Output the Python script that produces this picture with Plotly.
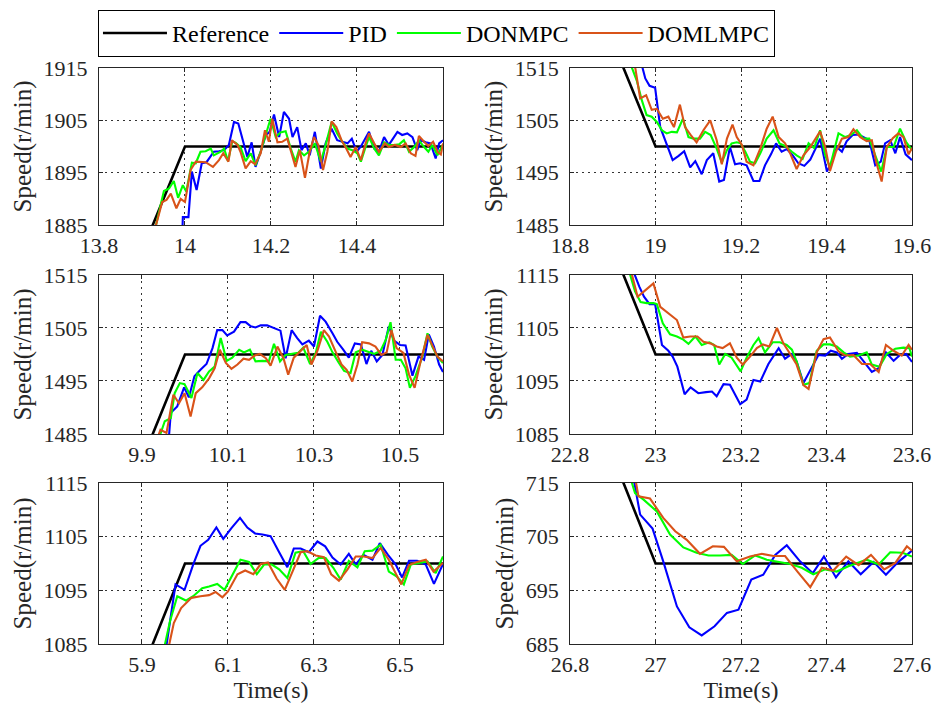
import plotly.graph_objects as go

# ---------------- data ----------------
series_names = ["Reference", "PID", "DONMPC", "DOMLMPC"]
series_colors = ["#000000", "#0000FF", "#00FF00", "#D95319"]

# Panel 1 (top-left)
tl_ref_t = [13.8, 14.0, 14.6]
tl_ref = [1860, 1900, 1900]
tl_pid_t = [13.994, 13.995, 14.008, 14.016, 14.027, 14.039, 14.050, 14.067, 14.079, 14.091, 14.102, 14.114, 14.124, 14.135, 14.145, 14.155, 14.164, 14.176, 14.188, 14.197, 14.207, 14.219, 14.230, 14.242, 14.250, 14.261, 14.271, 14.281, 14.290, 14.302, 14.316, 14.327, 14.341, 14.354, 14.366, 14.378, 14.388, 14.399, 14.409, 14.428, 14.440, 14.451, 14.463, 14.474, 14.494, 14.505, 14.517, 14.529, 14.540, 14.548, 14.560, 14.571, 14.583, 14.591, 14.600]
tl_pid = [1884.0, 1886.5, 1886.5, 1895.2, 1891.7, 1896.8, 1897.0, 1899.0, 1899.1, 1899.3, 1900.3, 1904.7, 1904.4, 1900.9, 1898.0, 1900.8, 1896.1, 1899.0, 1902.2, 1902.8, 1906.1, 1901.8, 1906.6, 1905.3, 1901.8, 1903.7, 1899.3, 1900.6, 1898.3, 1902.8, 1895.8, 1900.6, 1903.4, 1901.2, 1900.9, 1900.6, 1901.5, 1899.0, 1900.0, 1902.8, 1899.6, 1899.0, 1901.8, 1900.3, 1902.8, 1902.2, 1902.5, 1901.8, 1899.3, 1901.2, 1900.8, 1900.6, 1897.7, 1900.6, 1901.2]
tl_don_t = [13.932, 13.951, 13.963, 13.974, 13.984, 13.995, 14.003, 14.016, 14.025, 14.036, 14.048, 14.060, 14.067, 14.083, 14.091, 14.100, 14.110, 14.118, 14.129, 14.141, 14.153, 14.164, 14.176, 14.188, 14.199, 14.211, 14.222, 14.234, 14.246, 14.257, 14.265, 14.277, 14.288, 14.302, 14.316, 14.327, 14.341, 14.354, 14.366, 14.378, 14.389, 14.401, 14.409, 14.420, 14.428, 14.440, 14.451, 14.463, 14.474, 14.486, 14.498, 14.509, 14.521, 14.533, 14.544, 14.556, 14.566, 14.575, 14.587, 14.600]
tl_don = [1884.8, 1891.5, 1892.0, 1893.4, 1890.2, 1892.6, 1891.4, 1896.9, 1896.8, 1899.0, 1899.1, 1899.6, 1898.3, 1899.0, 1899.6, 1897.2, 1901.0, 1900.7, 1899.9, 1897.2, 1898.7, 1896.4, 1899.0, 1902.5, 1905.3, 1901.8, 1902.7, 1902.9, 1899.6, 1897.1, 1899.3, 1898.3, 1899.0, 1900.6, 1897.1, 1900.3, 1904.7, 1902.5, 1900.9, 1899.6, 1899.3, 1898.7, 1897.1, 1899.9, 1901.8, 1899.6, 1898.3, 1900.8, 1900.3, 1900.3, 1900.4, 1901.2, 1899.0, 1899.9, 1901.2, 1899.9, 1899.0, 1900.3, 1898.3, 1900.4]
tl_doml_t = [13.932, 13.947, 13.957, 13.967, 13.980, 13.990, 14.000, 14.013, 14.025, 14.036, 14.048, 14.065, 14.079, 14.089, 14.101, 14.109, 14.122, 14.129, 14.141, 14.153, 14.163, 14.176, 14.186, 14.195, 14.203, 14.215, 14.226, 14.238, 14.250, 14.257, 14.267, 14.279, 14.290, 14.300, 14.310, 14.321, 14.331, 14.341, 14.352, 14.364, 14.375, 14.385, 14.397, 14.409, 14.420, 14.428, 14.440, 14.451, 14.465, 14.474, 14.488, 14.502, 14.513, 14.525, 14.536, 14.544, 14.556, 14.566, 14.577, 14.588, 14.595, 14.600]
tl_doml = [1884.8, 1889.4, 1889.8, 1891.0, 1888.2, 1890.0, 1889.4, 1895.5, 1897.1, 1897.1, 1897.0, 1896.1, 1897.4, 1898.7, 1897.1, 1901.2, 1900.3, 1899.0, 1895.8, 1897.2, 1896.6, 1898.7, 1903.1, 1900.9, 1905.3, 1900.8, 1900.9, 1901.5, 1898.3, 1896.1, 1899.3, 1894.0, 1899.0, 1901.8, 1900.3, 1895.5, 1899.0, 1904.8, 1903.7, 1901.2, 1899.6, 1898.0, 1899.9, 1897.4, 1900.6, 1902.5, 1900.6, 1899.0, 1900.6, 1899.9, 1900.3, 1899.9, 1900.6, 1898.7, 1898.2, 1902.0, 1900.9, 1900.1, 1900.9, 1898.9, 1898.5, 1900.6]

# Panel 2 (top-right)
tr_ref_t = [18.8, 19.0, 19.6]
tr_ref = [1540, 1500, 1500]
tr_pid_t = [18.968, 18.976, 18.986, 18.999, 19.011, 19.026, 19.040, 19.054, 19.067, 19.081, 19.093, 19.108, 19.120, 19.135, 19.149, 19.160, 19.174, 19.186, 19.198, 19.213, 19.229, 19.243, 19.256, 19.270, 19.282, 19.295, 19.307, 19.321, 19.334, 19.348, 19.362, 19.376, 19.385, 19.401, 19.412, 19.424, 19.436, 19.447, 19.461, 19.475, 19.486, 19.500, 19.514, 19.527, 19.537, 19.549, 19.561, 19.572, 19.585, 19.600]
tr_pid = [1515.5, 1513.0, 1511.6, 1511.2, 1503.7, 1500.6, 1497.4, 1498.2, 1499.1, 1496.0, 1497.2, 1494.7, 1497.4, 1498.7, 1493.3, 1493.6, 1499.9, 1496.6, 1496.8, 1496.4, 1493.4, 1493.4, 1496.4, 1498.5, 1500.6, 1499.0, 1499.5, 1498.3, 1496.8, 1496.3, 1497.5, 1499.9, 1501.5, 1495.2, 1497.1, 1499.9, 1499.0, 1501.0, 1502.2, 1502.3, 1501.8, 1501.2, 1496.4, 1497.1, 1500.6, 1501.2, 1498.7, 1501.8, 1498.5, 1497.4]
tr_don_t = [18.944, 18.956, 18.968, 18.979, 18.991, 19.003, 19.015, 19.026, 19.038, 19.050, 19.064, 19.077, 19.089, 19.104, 19.116, 19.129, 19.143, 19.155, 19.167, 19.178, 19.190, 19.199, 19.210, 19.221, 19.233, 19.245, 19.260, 19.276, 19.290, 19.303, 19.319, 19.330, 19.344, 19.358, 19.371, 19.385, 19.397, 19.408, 19.428, 19.444, 19.457, 19.471, 19.486, 19.500, 19.514, 19.528, 19.541, 19.557, 19.572, 19.586, 19.600]
tr_don = [1515.2, 1512.6, 1508.8, 1506.0, 1505.7, 1504.7, 1503.1, 1502.5, 1502.8, 1502.7, 1505.3, 1501.8, 1501.5, 1501.5, 1502.8, 1502.2, 1499.6, 1496.9, 1499.3, 1500.6, 1500.8, 1500.6, 1499.0, 1497.1, 1496.8, 1498.7, 1501.5, 1503.1, 1500.6, 1500.1, 1499.0, 1498.3, 1497.6, 1500.6, 1499.7, 1503.1, 1498.3, 1496.1, 1502.5, 1501.8, 1502.2, 1503.1, 1501.5, 1501.5, 1498.3, 1495.2, 1499.9, 1499.9, 1503.4, 1500.9, 1499.3]
tr_doml_t = [18.952, 18.964, 18.978, 18.991, 19.003, 19.017, 19.030, 19.043, 19.057, 19.069, 19.082, 19.096, 19.112, 19.128, 19.143, 19.155, 19.167, 19.180, 19.190, 19.202, 19.213, 19.229, 19.245, 19.260, 19.274, 19.288, 19.303, 19.316, 19.330, 19.346, 19.362, 19.385, 19.397, 19.408, 19.422, 19.436, 19.451, 19.463, 19.479, 19.494, 19.506, 19.516, 19.529, 19.541, 19.555, 19.568, 19.580, 19.592, 19.600]
tr_doml = [1515.3, 1509.2, 1509.8, 1507.0, 1507.2, 1505.3, 1505.7, 1503.7, 1508.0, 1503.7, 1502.2, 1500.8, 1503.1, 1505.0, 1501.2, 1496.6, 1501.5, 1504.2, 1501.8, 1500.3, 1497.1, 1496.4, 1499.6, 1503.4, 1505.7, 1501.8, 1500.6, 1498.5, 1495.7, 1498.3, 1499.9, 1502.9, 1499.9, 1495.3, 1499.0, 1501.5, 1501.8, 1503.3, 1501.8, 1501.0, 1501.2, 1497.1, 1493.3, 1499.9, 1501.6, 1502.5, 1501.8, 1498.5, 1499.7]

# Panel 3 (middle-left)
ml_ref_t = [9.8, 10.0, 10.6]
ml_ref = [1460, 1500, 1500]
ml_pid_t = [9.963, 9.967, 9.982, 9.998, 10.009, 10.022, 10.036, 10.050, 10.064, 10.075, 10.087, 10.098, 10.114, 10.129, 10.141, 10.153, 10.164, 10.176, 10.191, 10.207, 10.222, 10.234, 10.248, 10.261, 10.273, 10.288, 10.300, 10.314, 10.327, 10.343, 10.354, 10.368, 10.381, 10.395, 10.409, 10.422, 10.433, 10.446, 10.459, 10.474, 10.486, 10.500, 10.513, 10.529, 10.543, 10.556, 10.567, 10.579, 10.591, 10.600]
ml_pid = [1484.8, 1489.0, 1490.2, 1493.8, 1491.9, 1495.9, 1497.1, 1498.2, 1501.2, 1504.6, 1504.6, 1503.6, 1504.3, 1506.1, 1506.1, 1505.3, 1505.1, 1505.5, 1505.5, 1505.0, 1504.5, 1499.3, 1504.6, 1503.1, 1501.9, 1502.6, 1501.5, 1507.3, 1506.2, 1504.0, 1502.4, 1500.9, 1499.4, 1502.1, 1501.9, 1498.2, 1500.7, 1498.7, 1499.9, 1505.3, 1502.6, 1501.8, 1501.7, 1496.0, 1499.6, 1499.0, 1503.8, 1501.5, 1498.1, 1496.7]
ml_don_t = [9.942, 9.953, 9.967, 9.976, 9.988, 9.999, 10.015, 10.029, 10.043, 10.056, 10.069, 10.083, 10.097, 10.110, 10.126, 10.137, 10.151, 10.164, 10.180, 10.195, 10.207, 10.221, 10.234, 10.250, 10.263, 10.275, 10.291, 10.304, 10.316, 10.331, 10.343, 10.358, 10.370, 10.385, 10.397, 10.412, 10.424, 10.440, 10.455, 10.467, 10.478, 10.490, 10.502, 10.513, 10.523, 10.536, 10.552, 10.564, 10.575, 10.587, 10.600]
ml_don = [1484.8, 1487.4, 1488.0, 1492.7, 1494.6, 1494.4, 1491.8, 1496.5, 1495.2, 1496.8, 1497.7, 1503.1, 1498.8, 1499.4, 1500.9, 1500.4, 1500.9, 1498.7, 1498.8, 1498.7, 1502.0, 1498.7, 1499.9, 1500.1, 1500.3, 1501.3, 1498.2, 1500.3, 1504.3, 1502.4, 1500.4, 1498.4, 1496.9, 1496.5, 1500.4, 1500.9, 1500.6, 1500.1, 1500.7, 1502.8, 1506.1, 1499.0, 1499.0, 1497.4, 1493.7, 1495.9, 1499.6, 1504.0, 1501.5, 1499.6, 1498.4]
ml_doml_t = [9.935, 9.943, 9.957, 9.973, 9.986, 9.999, 10.013, 10.025, 10.040, 10.056, 10.069, 10.081, 10.095, 10.108, 10.122, 10.136, 10.149, 10.162, 10.174, 10.188, 10.199, 10.215, 10.229, 10.240, 10.253, 10.269, 10.283, 10.294, 10.308, 10.323, 10.335, 10.350, 10.364, 10.376, 10.389, 10.401, 10.412, 10.428, 10.443, 10.457, 10.469, 10.480, 10.492, 10.508, 10.521, 10.534, 10.548, 10.564, 10.575, 10.587, 10.600]
ml_doml = [1484.0, 1485.8, 1485.2, 1492.4, 1490.8, 1492.7, 1488.3, 1492.7, 1493.8, 1495.5, 1497.4, 1500.9, 1498.4, 1497.3, 1498.1, 1499.2, 1499.0, 1499.8, 1500.1, 1499.3, 1497.9, 1501.5, 1499.3, 1496.2, 1499.4, 1500.6, 1501.8, 1498.1, 1500.7, 1504.6, 1503.4, 1500.6, 1498.1, 1497.1, 1494.9, 1498.1, 1502.3, 1502.1, 1501.5, 1499.9, 1500.4, 1504.6, 1501.2, 1500.3, 1496.2, 1493.7, 1498.7, 1503.7, 1501.8, 1499.6, 1498.7]

# Panel 4 (middle-right)
mr_ref_t = [22.8, 23.0, 23.6]
mr_ref = [1140, 1100, 1100]
mr_pid_t = [22.950, 22.962, 22.973, 22.986, 22.999, 23.015, 23.030, 23.040, 23.051, 23.068, 23.082, 23.100, 23.118, 23.132, 23.143, 23.159, 23.174, 23.198, 23.213, 23.229, 23.245, 23.264, 23.288, 23.303, 23.319, 23.330, 23.346, 23.362, 23.381, 23.397, 23.410, 23.424, 23.436, 23.451, 23.471, 23.486, 23.506, 23.522, 23.539, 23.557, 23.572, 23.586, 23.600]
mr_pid = [1115.3, 1112.8, 1110.9, 1109.5, 1109.5, 1101.8, 1100.7, 1099.6, 1097.7, 1092.5, 1093.8, 1092.7, 1092.9, 1093.0, 1092.1, 1094.4, 1094.3, 1090.6, 1091.5, 1095.2, 1094.9, 1098.2, 1101.2, 1099.2, 1100.1, 1098.7, 1094.6, 1096.9, 1099.9, 1099.8, 1100.7, 1100.4, 1099.2, 1100.1, 1100.3, 1098.8, 1096.7, 1097.4, 1100.4, 1098.8, 1099.9, 1100.1, 1098.6]
mr_don_t = [22.940, 22.952, 22.965, 22.979, 22.995, 23.003, 23.017, 23.034, 23.050, 23.065, 23.077, 23.093, 23.108, 23.126, 23.137, 23.149, 23.163, 23.178, 23.199, 23.213, 23.229, 23.241, 23.256, 23.274, 23.291, 23.307, 23.319, 23.330, 23.346, 23.360, 23.377, 23.393, 23.408, 23.424, 23.440, 23.455, 23.475, 23.494, 23.506, 23.524, 23.541, 23.561, 23.580, 23.594, 23.600]
mr_don = [1115.2, 1111.9, 1109.9, 1109.7, 1109.7, 1109.5, 1105.9, 1103.8, 1103.4, 1102.8, 1102.0, 1103.4, 1101.8, 1102.3, 1101.8, 1098.1, 1100.1, 1099.4, 1096.8, 1099.4, 1101.8, 1103.1, 1100.4, 1102.3, 1102.3, 1101.8, 1100.9, 1098.7, 1094.3, 1094.6, 1100.7, 1101.9, 1101.9, 1101.5, 1100.4, 1099.6, 1099.8, 1100.4, 1098.1, 1097.7, 1100.1, 1101.1, 1101.3, 1101.2, 1099.6]
mr_doml_t = [22.944, 22.958, 22.973, 22.995, 23.011, 23.030, 23.050, 23.065, 23.081, 23.098, 23.112, 23.128, 23.143, 23.157, 23.174, 23.190, 23.204, 23.221, 23.237, 23.251, 23.266, 23.284, 23.299, 23.315, 23.330, 23.346, 23.358, 23.377, 23.393, 23.408, 23.428, 23.444, 23.463, 23.483, 23.502, 23.522, 23.539, 23.557, 23.576, 23.592, 23.600]
mr_doml = [1115.3, 1110.9, 1111.9, 1113.4, 1109.0, 1107.8, 1106.5, 1103.2, 1103.4, 1103.4, 1102.4, 1102.1, 1101.5, 1101.2, 1102.1, 1099.4, 1098.1, 1099.6, 1101.2, 1101.9, 1101.5, 1105.0, 1102.1, 1100.1, 1098.1, 1094.2, 1093.5, 1100.4, 1102.9, 1103.2, 1100.6, 1099.8, 1099.9, 1098.2, 1098.2, 1096.7, 1101.8, 1100.7, 1099.8, 1101.8, 1100.9]

# Panel 5 (bottom-left)
bl_ref_t = [5.8, 6.0, 6.6]
bl_ref = [1060, 1100, 1100]
bl_pid_t = [5.957, 5.967, 5.978, 5.999, 6.019, 6.036, 6.054, 6.073, 6.089, 6.108, 6.128, 6.145, 6.163, 6.180, 6.199, 6.219, 6.238, 6.253, 6.269, 6.288, 6.308, 6.326, 6.343, 6.362, 6.381, 6.397, 6.415, 6.436, 6.453, 6.472, 6.490, 6.505, 6.521, 6.540, 6.560, 6.579, 6.600]
bl_pid = [1084.8, 1089.8, 1096.1, 1095.1, 1099.8, 1103.3, 1104.4, 1106.7, 1104.6, 1106.6, 1108.5, 1106.7, 1105.6, 1105.4, 1105.1, 1102.1, 1099.3, 1102.8, 1102.8, 1102.1, 1104.1, 1103.2, 1101.1, 1099.8, 1101.8, 1099.8, 1101.6, 1100.7, 1103.8, 1101.6, 1099.8, 1097.4, 1100.5, 1100.5, 1099.8, 1096.2, 1099.9]
bl_don_t = [5.953, 5.965, 5.982, 6.002, 6.019, 6.040, 6.056, 6.075, 6.092, 6.110, 6.129, 6.149, 6.167, 6.184, 6.202, 6.219, 6.238, 6.257, 6.275, 6.292, 6.312, 6.327, 6.345, 6.362, 6.381, 6.401, 6.418, 6.436, 6.455, 6.474, 6.492, 6.509, 6.525, 6.544, 6.564, 6.583, 6.600]
bl_don = [1084.8, 1089.2, 1093.9, 1093.1, 1093.9, 1095.4, 1095.7, 1096.2, 1095.1, 1097.9, 1100.7, 1100.3, 1098.0, 1099.8, 1099.8, 1098.9, 1097.3, 1102.0, 1102.3, 1099.9, 1101.1, 1101.0, 1099.2, 1097.0, 1100.5, 1099.3, 1102.3, 1102.4, 1103.5, 1098.5, 1097.6, 1096.1, 1099.8, 1100.1, 1100.4, 1098.2, 1101.3]
bl_doml_t = [5.963, 5.974, 5.991, 6.015, 6.036, 6.056, 6.071, 6.087, 6.100, 6.122, 6.140, 6.159, 6.176, 6.193, 6.213, 6.232, 6.250, 6.269, 6.284, 6.304, 6.323, 6.340, 6.358, 6.378, 6.397, 6.416, 6.436, 6.455, 6.474, 6.490, 6.503, 6.521, 6.540, 6.560, 6.578, 6.600]
bl_doml = [1084.8, 1088.9, 1091.7, 1093.6, 1093.9, 1094.1, 1094.7, 1093.7, 1094.8, 1098.0, 1098.7, 1098.0, 1099.9, 1100.2, 1097.2, 1095.1, 1098.5, 1102.1, 1102.3, 1101.5, 1101.2, 1098.0, 1096.8, 1098.9, 1101.3, 1101.3, 1101.0, 1102.9, 1100.7, 1098.2, 1096.1, 1099.7, 1100.3, 1100.7, 1098.5, 1100.1]

# Panel 6 (bottom-right)
br_ref_t = [26.8, 27.0, 27.6]
br_ref = [740, 700, 700]
br_pid_t = [26.950, 26.964, 26.993, 27.018, 27.050, 27.079, 27.108, 27.138, 27.167, 27.194, 27.224, 27.252, 27.280, 27.307, 27.338, 27.368, 27.394, 27.422, 27.451, 27.480, 27.510, 27.539, 27.568, 27.600]
br_pid = [715.2, 709.1, 706.5, 700.4, 692.0, 688.1, 686.6, 688.3, 690.8, 691.4, 697.0, 697.9, 701.6, 703.4, 700.4, 698.2, 701.3, 697.4, 700.4, 698.0, 700.3, 697.9, 700.3, 702.4]
br_don_t = [26.944, 26.952, 26.972, 27.003, 27.034, 27.065, 27.096, 27.124, 27.151, 27.178, 27.204, 27.233, 27.260, 27.288, 27.315, 27.342, 27.369, 27.397, 27.424, 27.451, 27.494, 27.522, 27.549, 27.578, 27.600]
br_don = [715.2, 713.1, 711.9, 709.7, 705.4, 703.0, 702.0, 701.5, 701.5, 701.6, 699.9, 701.5, 700.7, 700.3, 699.9, 699.2, 698.0, 698.9, 698.5, 699.5, 700.7, 699.8, 702.1, 702.0, 701.3]
br_doml_t = [26.954, 26.960, 26.987, 27.018, 27.046, 27.073, 27.104, 27.134, 27.160, 27.190, 27.221, 27.249, 27.276, 27.303, 27.332, 27.362, 27.389, 27.416, 27.446, 27.475, 27.504, 27.535, 27.561, 27.588, 27.600]
br_doml = [715.2, 712.5, 712.1, 708.5, 706.0, 704.4, 701.8, 703.2, 703.1, 700.4, 701.3, 701.8, 701.4, 701.4, 698.5, 695.6, 699.2, 698.7, 701.3, 699.7, 701.6, 698.9, 700.1, 703.2, 702.4]

# axis ranges / ticks
tl_xrange, tl_xticks, tl_xlabels = [13.8, 14.6], [13.8, 14.0, 14.2, 14.4], ["13.8", "14", "14.2", "14.4"]
tr_xrange, tr_xticks, tr_xlabels = [18.8, 19.6], [18.8, 19.0, 19.2, 19.4, 19.6], ["18.8", "19", "19.2", "19.4", "19.6"]
ml_xrange, ml_xticks, ml_xlabels = [9.8, 10.6], [9.9, 10.1, 10.3, 10.5], ["9.9", "10.1", "10.3", "10.5"]
mr_xrange, mr_xticks, mr_xlabels = [22.8, 23.6], [22.8, 23.0, 23.2, 23.4, 23.6], ["22.8", "23", "23.2", "23.4", "23.6"]
bl_xrange, bl_xticks, bl_xlabels = [5.8, 6.6], [5.9, 6.1, 6.3, 6.5], ["5.9", "6.1", "6.3", "6.5"]
br_xrange, br_xticks, br_xlabels = [26.8, 27.6], [26.8, 27.0, 27.2, 27.4, 27.6], ["26.8", "27", "27.2", "27.4", "27.6"]

tl_yticks = [1885, 1895, 1905, 1915]
tr_yticks = [1485, 1495, 1505, 1515]
ml_yticks = [1485, 1495, 1505, 1515]
mr_yticks = [1085, 1095, 1105, 1115]
bl_yticks = [1085, 1095, 1105, 1115]
br_yticks = [685, 695, 705, 715]

y_title = "Speed(r/min)"
x_title = "Time(s)"

# ---------------- figure ----------------
FONT = "Liberation Serif"
TXT = "#262626"

panels = [
    dict(ref=(tl_ref_t, tl_ref), s=[(tl_pid_t, tl_pid), (tl_don_t, tl_don), (tl_doml_t, tl_doml)],
         xr=tl_xrange, xt=tl_xticks, xl=tl_xlabels, yt=tl_yticks, dx=[0.1061, 0.4748], dy=[0.6813, 0.9037], xtitle=False),
    dict(ref=(tr_ref_t, tr_ref), s=[(tr_pid_t, tr_pid), (tr_don_t, tr_don), (tr_doml_t, tr_doml)],
         xr=tr_xrange, xt=tr_xticks, xl=tr_xlabels, yt=tr_yticks, dx=[0.6110, 0.9775], dy=[0.6813, 0.9037], xtitle=False),
    dict(ref=(ml_ref_t, ml_ref), s=[(ml_pid_t, ml_pid), (ml_don_t, ml_don), (ml_doml_t, ml_doml)],
         xr=ml_xrange, xt=ml_xticks, xl=ml_xlabels, yt=ml_yticks, dx=[0.1061, 0.4748], dy=[0.3853, 0.6105], xtitle=False),
    dict(ref=(mr_ref_t, mr_ref), s=[(mr_pid_t, mr_pid), (mr_don_t, mr_don), (mr_doml_t, mr_doml)],
         xr=mr_xrange, xt=mr_xticks, xl=mr_xlabels, yt=mr_yticks, dx=[0.6110, 0.9775], dy=[0.3853, 0.6105], xtitle=False),
    dict(ref=(bl_ref_t, bl_ref), s=[(bl_pid_t, bl_pid), (bl_don_t, bl_don), (bl_doml_t, bl_doml)],
         xr=bl_xrange, xt=bl_xticks, xl=bl_xlabels, yt=bl_yticks, dx=[0.1061, 0.4748], dy=[0.0878, 0.3159], xtitle=True),
    dict(ref=(br_ref_t, br_ref), s=[(br_pid_t, br_pid), (br_don_t, br_don), (br_doml_t, br_doml)],
         xr=br_xrange, xt=br_xticks, xl=br_xlabels, yt=br_yticks, dx=[0.6110, 0.9775], dy=[0.0878, 0.3159], xtitle=True),
]

fig = go.Figure()
layout = {}
for i, p in enumerate(panels, start=1):
    xa = "x" if i == 1 else f"x{i}"
    ya = "y" if i == 1 else f"y{i}"
    all_series = [p["ref"]] + p["s"]
    for k, (tt, vv) in enumerate(all_series):
        fig.add_trace(go.Scatter(
            x=tt, y=vv, mode="lines", name=series_names[k],
            line=dict(color=series_colors[k], width=2.6 if k == 0 else 2.1),
            showlegend=(i == 1), legendgroup=series_names[k],
            xaxis=xa, yaxis=ya, cliponaxis=True))
    common = dict(showline=True, linecolor=TXT, linewidth=1, mirror="ticks",
                  ticks="inside", ticklen=4, tickcolor=TXT, automargin=False,
                  showgrid=True, gridcolor="rgba(30,30,30,0.9)", griddash="2px,4px", gridwidth=1,
                  zeroline=False, tickfont=dict(family=FONT, size=22, color=TXT))
    xkey = "xaxis" if i == 1 else f"xaxis{i}"
    ykey = "yaxis" if i == 1 else f"yaxis{i}"
    layout[xkey] = dict(common, domain=p["dx"], range=p["xr"], tickmode="array",
                        tickvals=p["xt"], ticktext=p["xl"], anchor=ya, ticklabelstandoff=1,
                        title=dict(text=x_title if p["xtitle"] else "", font=dict(family=FONT, size=24, color=TXT), standoff=0))
    layout[ykey] = dict(common, domain=p["dy"], range=[p["yt"][0], p["yt"][-1]], tickmode="array",
                        tickvals=p["yt"], ticktext=[str(v) for v in p["yt"]], anchor=xa, ticklabelstandoff=6,
                        title=dict(text=y_title, font=dict(family=FONT, size=25, color=TXT), standoff=4))

fig.update_layout(**layout)
fig.update_layout(
    width=933, height=706, autosize=False,
    margin=dict(l=0, r=0, t=0, b=0, autoexpand=False),
    paper_bgcolor="white", plot_bgcolor="white",
    font=dict(family=FONT, color=TXT),
    legend=dict(orientation="h", x=0.105, y=0.986, xanchor="left", yanchor="top",
                bordercolor="#000000", borderwidth=1, bgcolor="white",
                font=dict(family=FONT, size=24, color="#000000"),
                itemwidth=64, tracegroupgap=0),
)

fig.write_html("out.html", config={"displayModeBar": False},
               post_script="document.body.style.margin='0';document.body.style.overflow='hidden';")
